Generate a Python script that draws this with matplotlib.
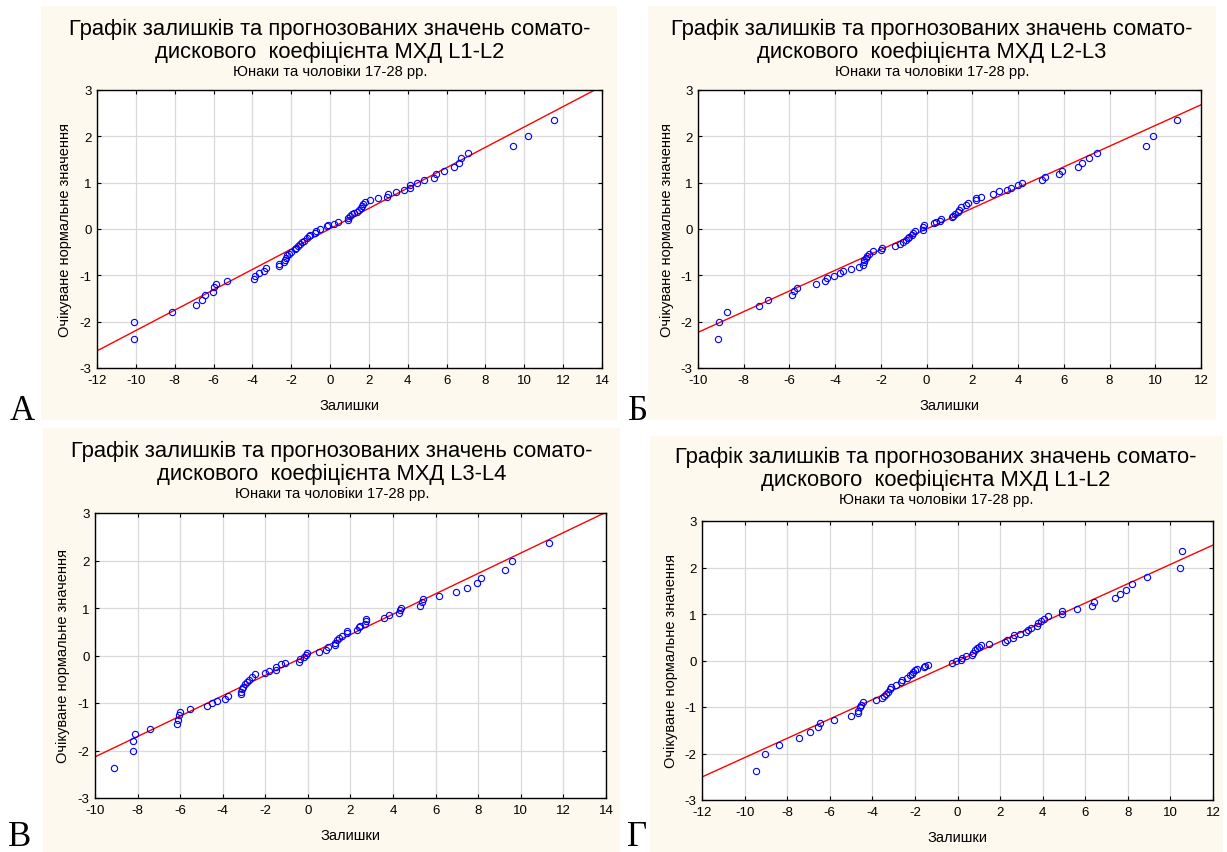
#Normal probability plots of residuals, four panels
import matplotlib
matplotlib.use('Agg')
import matplotlib.pyplot as plt
from matplotlib.patches import Rectangle

plt.rcParams['font.family'] = ['Liberation Sans', 'DejaVu Sans']
plt.rcParams['axes.unicode_minus'] = False

W, H = 1227, 853

# panel A: residuals and expected normal values
res_a = [-10.11, -10.11, -8.14, -6.89, -6.60, -6.43, -6.05, -6.00, -5.88, -5.30,
         -3.92, -3.89, -3.65, -3.41, -3.29, -2.64, -2.62, -2.35, -2.31, -2.28,
         -2.21, -2.11, -2.02, -1.83, -1.73, -1.63, -1.54, -1.46, -1.35, -1.18,
         -1.11, -1.03, -0.77, -0.70, -0.50, -0.14, -0.09, 0.22, 0.39, 0.91,
         0.94, 1.01, 1.11, 1.25, 1.39, 1.49, 1.58, 1.63, 1.68, 1.80,
         2.06, 2.48, 2.93, 3.00, 3.38, 3.79, 4.10, 4.10, 4.49, 4.82,
         5.36, 5.47, 5.88, 6.38, 6.63, 6.74, 7.08, 9.43, 10.20, 11.53]
exp_a = [-2.37, -2.00, -1.80, -1.65, -1.54, -1.43, -1.35, -1.26, -1.19, -1.12,
         -1.07, -1.02, -0.96, -0.91, -0.85, -0.80, -0.76, -0.72, -0.66, -0.62,
         -0.57, -0.53, -0.49, -0.44, -0.40, -0.37, -0.33, -0.29, -0.25, -0.20,
         -0.16, -0.12, -0.08, -0.04, 0.01, 0.06, 0.09, 0.11, 0.16, 0.19,
         0.23, 0.27, 0.32, 0.34, 0.37, 0.40, 0.45, 0.50, 0.55, 0.59,
         0.63, 0.67, 0.70, 0.75, 0.80, 0.84, 0.88, 0.95, 1.00, 1.05,
         1.11, 1.19, 1.25, 1.33, 1.42, 1.53, 1.65, 1.80, 2.00, 2.36]

# panel Б
res_b = [-9.12, -9.08, -8.75, -7.35, -6.96, -5.88, -5.82, -5.67, -4.85, -4.45,
         -4.35, -4.06, -3.80, -3.64, -3.30, -2.94, -2.78, -2.75, -2.72, -2.66,
         -2.60, -2.53, -2.33, -1.98, -1.94, -1.39, -1.15, -1.03, -0.91, -0.83,
         -0.75, -0.66, -0.58, -0.53, -0.18, -0.14, -0.11, 0.34, 0.39, 0.59,
         0.65, 1.09, 1.16, 1.23, 1.35, 1.42, 1.50, 1.73, 1.82, 2.14,
         2.17, 2.39, 2.90, 3.16, 3.51, 3.69, 3.99, 4.17, 5.03, 5.17,
         5.77, 5.92, 6.60, 6.78, 7.10, 7.46, 9.58, 9.91, 10.96]
exp_b = [-2.37, -2.01, -1.80, -1.66, -1.54, -1.43, -1.34, -1.27, -1.19, -1.13,
         -1.06, -1.01, -0.96, -0.91, -0.86, -0.81, -0.77, -0.72, -0.67, -0.62,
         -0.58, -0.53, -0.47, -0.45, -0.40, -0.37, -0.33, -0.28, -0.24, -0.20,
         -0.17, -0.12, -0.08, -0.04, -0.02, 0.04, 0.09, 0.12, 0.16, 0.18,
         0.22, 0.25, 0.29, 0.33, 0.37, 0.42, 0.47, 0.51, 0.56, 0.62,
         0.67, 0.70, 0.76, 0.81, 0.84, 0.89, 0.95, 1.00, 1.05, 1.12,
         1.19, 1.25, 1.33, 1.43, 1.53, 1.65, 1.80, 2.01, 2.36]

# panel В
res_c = [-9.09, -8.22, -8.20, -8.14, -7.43, -6.17, -6.10, -6.04, -5.99, -5.56,
         -4.74, -4.49, -4.27, -3.91, -3.76, -3.16, -3.15, -3.10, -3.04, -2.96,
         -2.86, -2.75, -2.63, -2.50, -2.00, -1.82, -1.52, -1.50, -1.28, -1.08,
         -0.41, -0.36, -0.20, -0.09, -0.05, 0.53, 0.85, 0.92, 1.25, 1.28,
         1.36, 1.44, 1.60, 1.83, 1.83, 2.30, 2.38, 2.44, 2.69, 2.72,
         2.72, 3.58, 3.82, 4.29, 4.32, 4.35, 5.27, 5.37, 5.41, 6.15,
         6.95, 7.48, 7.95, 8.12, 9.25, 9.59, 11.30]
exp_c = [-2.37, -2.01, -1.81, -1.66, -1.54, -1.45, -1.35, -1.26, -1.19, -1.12,
         -1.07, -1.01, -0.95, -0.91, -0.86, -0.81, -0.76, -0.71, -0.66, -0.60,
         -0.55, -0.51, -0.45, -0.39, -0.36, -0.33, -0.30, -0.25, -0.18, -0.15,
         -0.13, -0.08, -0.04, 0.01, 0.06, 0.08, 0.12, 0.18, 0.22, 0.27,
         0.32, 0.36, 0.42, 0.48, 0.51, 0.53, 0.59, 0.63, 0.67, 0.73,
         0.76, 0.80, 0.85, 0.89, 0.95, 1.00, 1.05, 1.12, 1.19, 1.26,
         1.33, 1.42, 1.53, 1.64, 1.80, 2.00, 2.36]

# panel Г
res_d = [-9.48, -9.06, -8.37, -7.46, -6.95, -6.56, -6.46, -5.82, -4.98, -4.69,
         -4.65, -4.58, -4.54, -4.43, -3.83, -3.54, -3.46, -3.35, -3.27, -3.19,
         -3.13, -2.88, -2.64, -2.63, -2.36, -2.22, -2.14, -2.07, -1.99, -1.91,
         -1.55, -1.52, -1.39, -0.27, -0.06, 0.16, 0.19, 0.39, 0.67, 0.75,
         0.83, 0.92, 1.02, 1.10, 1.49, 2.24, 2.32, 2.63, 2.66, 2.94,
         3.21, 3.29, 3.44, 3.72, 3.80, 3.93, 4.04, 4.23, 4.90, 4.90,
         5.60, 6.34, 6.43, 7.40, 7.64, 7.93, 8.18, 8.90, 10.44, 10.53]
exp_d = [-2.38, -2.01, -1.81, -1.66, -1.54, -1.44, -1.35, -1.27, -1.20, -1.13,
         -1.08, -1.01, -0.95, -0.90, -0.86, -0.81, -0.77, -0.72, -0.67, -0.62,
         -0.56, -0.52, -0.47, -0.43, -0.37, -0.32, -0.28, -0.24, -0.20, -0.18,
         -0.15, -0.11, -0.09, -0.06, -0.02, 0.01, 0.05, 0.09, 0.12, 0.17,
         0.22, 0.26, 0.30, 0.33, 0.36, 0.39, 0.45, 0.49, 0.54, 0.58,
         0.62, 0.66, 0.70, 0.75, 0.80, 0.84, 0.89, 0.95, 1.01, 1.06,
         1.11, 1.18, 1.26, 1.34, 1.43, 1.52, 1.64, 1.79, 2.00, 2.35]

# reference lines: (intercept, slope)
line_a = (0.006, 0.2197)
line_b = (0.002, 0.2232)
line_c = (0.012, 0.2146)
line_d = (-0.011, 0.2078)

xlims = [(-12, 14), (-10, 12), (-10, 14), (-12, 12)]
names = ['L1-L2', 'L2-L3', 'L3-L4', 'L1-L2']
letters = ['А', 'Б', 'В', 'Г']

# pixel layout (left, right, top, bottom) of axes, cream panels, titles, letters
axes_px = [(97, 602, 91, 369), (698, 1201, 91, 369), (95, 606, 514, 799), (702, 1213, 522, 801)]
panels_px = [(41, 617, 7, 421), (648, 1216, 7, 421), (43, 620, 429, 853), (650, 1223, 437, 853)]
title_px = [(330, 29), (932, 29), (332, 451), (936, 457)]
letter_px = [(10, 420), (628, 420), (8, 846), (627, 846)]

fig = plt.figure(figsize=(W / 100, H / 100), dpi=100)
fig.patch.set_facecolor('white')

data = [(res_a, exp_a, line_a), (res_b, exp_b, line_b), (res_c, exp_c, line_c), (res_d, exp_d, line_d)]

for i in range(4):
    pl, pr, pt, pb = panels_px[i]
    fig.patches.append(Rectangle((pl / W, 1 - pb / H), (pr - pl) / W, (pb - pt) / H,
                                 transform=fig.transFigure, facecolor='#fdf9ef',
                                 edgecolor='none', zorder=-5))
    l, r, t, b = axes_px[i]
    ax = fig.add_axes([l / W, 1 - b / H, (r - l) / W, (b - t) / H])
    ax.set_facecolor('white')
    res, exp, (c0, c1) = data[i]
    x0, x1 = xlims[i]
    ax.plot([x0, x1], [c0 + c1 * x0, c0 + c1 * x1], color='red', lw=1, zorder=2)
    ax.plot(res, exp, 'o', mfc='none', mec='blue', ms=4.5, mew=0.8, zorder=3)
    ax.set_xlim(x0, x1)
    ax.set_ylim(-3, 3)
    ax.set_xticks(range(x0, x1 + 1, 2))
    ax.set_yticks(range(-3, 4))
    ax.grid(True, color='#d9d9d9', lw=0.9, zorder=0)
    ax.set_axisbelow(True)
    ax.tick_params(direction='in', length=3, labelsize=9.5, top=True, right=True,
                   labeltop=False, labelright=False, pad=4)
    for s in ax.spines.values():
        s.set_linewidth(1)
    ax.set_xlabel('Залишки', fontsize=10.5, labelpad=9)
    ax.set_ylabel('Очікуване нормальне значення', fontsize=10.5, labelpad=5)

    tx, ty = title_px[i]
    fig.text(tx / W, 1 - ty / H, 'Графік залишків та прогнозованих значень сомато-',
             ha='center', va='center', fontsize=15.8)
    fig.text(tx / W, 1 - (ty + 23) / H, 'дискового  коефіцієнта МХД ' + names[i],
             ha='center', va='center', fontsize=15.8)
    fig.text(tx / W, 1 - (ty + 43) / H, 'Юнаки та чоловіки 17-28 рр.',
             ha='center', va='center', fontsize=10.6)
    lx, ly = letter_px[i]
    fig.text(lx / W, 1 - ly / H, letters[i], ha='left', va='baseline',
             fontsize=25, family='Liberation Serif')

fig.savefig('out.png', dpi=100)
